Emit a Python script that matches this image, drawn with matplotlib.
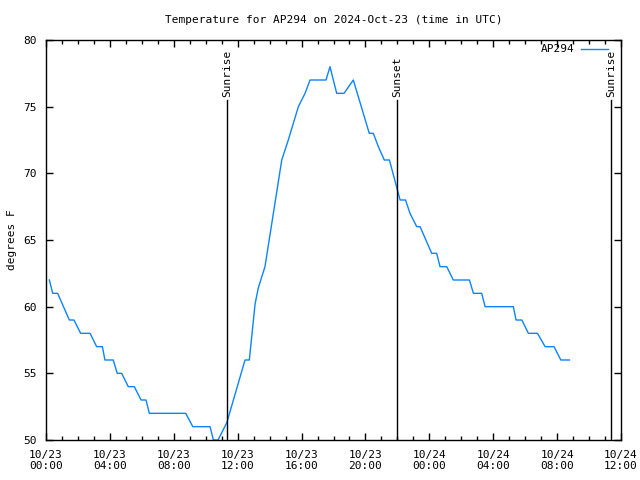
import numpy as np
import matplotlib
matplotlib.use("Agg")
import matplotlib.pyplot as plt
import matplotlib.dates as mdates
from datetime import datetime, timedelta

# hours after 2024-10-23 00:00 UTC and temperature (F)
hours = [0.21, 0.42, 0.73, 1.46, 1.75, 2.17, 2.76, 3.17, 3.53, 3.69, 4.21, 4.46, 4.74,
         5.15, 5.53, 5.95, 6.26, 6.47, 8.75, 9.19, 10.27, 10.48, 10.77, 11.32, 12.46,
         12.73, 13.09, 13.29, 13.71, 14.76, 15.17, 15.80, 16.22, 16.53, 17.53, 17.78,
         18.20, 18.66, 19.24, 20.24, 20.49, 20.81, 21.18, 21.50, 22.17, 22.51, 22.79,
         23.21, 23.42, 24.15, 24.46, 24.67, 25.09, 25.50, 26.51, 26.76, 27.28, 27.49,
         29.26, 29.43, 29.79, 30.20, 30.77, 31.25, 31.81, 32.23, 32.77]
temps = [62, 61, 61, 59, 59, 58, 58, 57, 57, 56, 56, 55, 55,
         54, 54, 53, 53, 52, 52, 51, 51, 50, 50, 51.3, 56,
         56, 60.2, 61.4, 63, 71, 72.5, 75, 76, 77, 77, 78,
         76, 76, 77, 73, 73, 72, 71, 71, 68, 68, 67,
         66, 66, 64, 64, 63, 63, 62, 62, 61, 61, 60,
         60, 59, 59, 58, 58, 57, 57, 56, 56]

sun_events = ["Sunrise", "Sunset", "Sunrise"]
sun_hours = [11.33, 21.98, 35.38]

base = datetime(2024, 10, 23)
times = [base + timedelta(hours=h) for h in hours]
sun_times = [base + timedelta(hours=h) for h in sun_hours]

plt.rcParams['font.family'] = 'DejaVu Sans Mono'
plt.rcParams['font.size'] = 8

fig = plt.figure(figsize=(6.4, 4.8), dpi=100)
ax = fig.add_axes([46/640, 40/480, 575/640, 400/480])

ax.plot(times, temps, color='#0a84ff', lw=1, label='AP294')

for name, t in zip(sun_events, sun_times):
    ax.plot([t, t], [50, 75.5], color='black', lw=1)
    ax.text(t, 75.7, name, rotation=90, ha='center', va='bottom')

ax.set_xlim(base, base + timedelta(hours=36))
ax.set_ylim(50, 80)
ax.set_yticks(np.arange(50, 81, 5))
ax.xaxis.set_major_locator(mdates.HourLocator(byhour=[0, 4, 8, 12, 16, 20]))
ax.xaxis.set_minor_locator(mdates.HourLocator())
ax.xaxis.set_major_formatter(mdates.DateFormatter('%m/%d\n%H:%M'))

ax.tick_params(which='both', direction='in', top=True, right=True, width=1)
ax.tick_params(which='major', length=5, pad=7)
ax.tick_params(which='minor', length=3)
for s in ax.spines.values():
    s.set_linewidth(1)

ax.set_title('Temperature for AP294 on 2024-Oct-23 (time in UTC)', fontsize=8, pad=12)
ax.set_ylabel('degrees F')

leg = ax.legend(loc='upper right', bbox_to_anchor=(0.985, 1.0), frameon=False,
                markerfirst=False, handlelength=2.4, borderaxespad=0,
                handletextpad=0.6)

fig.savefig('out.png', dpi=100)
